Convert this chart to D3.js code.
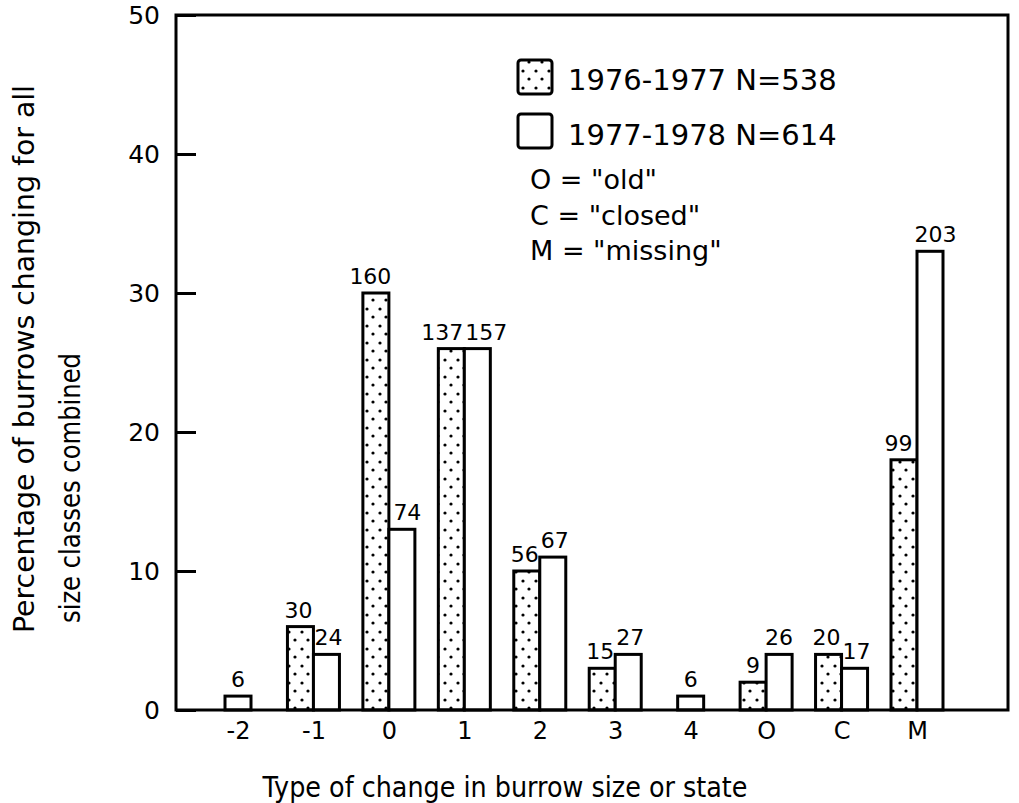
<!DOCTYPE html>
<html>
<head>
<meta charset="utf-8">
<script src="https://cdn.jsdelivr.net/npm/d3@7"></script>
<style>
  body { margin: 0; background: #fff; }
  svg { font-family: "DejaVu Sans", sans-serif; }
</style>
</head>
<body>
<svg id="chart" width="1019" height="803"></svg>
<script>
// categories along the x axis
const categories = ["-2", "-1", "0", "1", "2", "3", "4", "O", "C", "M"];
// 1976-1977 (stippled) percentages and counts
const pct7677 = [null, 6, 30, 26, 10, 3, null, 2, 4, 18];
const n7677 = [null, 30, 160, 137, 56, 15, null, 9, 20, 99];
// 1977-1978 (open) percentages and counts
const pct7778 = [1, 4, 13, 26, 11, 4, 1, 4, 3, 33];
const n7778 = [6, 24, 74, 157, 67, 27, 6, 26, 17, 203];
const yTicks = [0, 10, 20, 30, 40, 50];

const svg = d3.select("#chart");
const plotL = 176, plotR = 1008, plotT = 15, plotB = 710;
const bw = 26;

const x = d3.scalePoint().domain(categories).range([238, 917]);
const y = d3.scaleLinear().domain([0, 50]).range([plotB, plotT]);

// stipple pattern
const pat = svg.append("defs").append("pattern")
    .attr("id", "dots")
    .attr("patternUnits", "userSpaceOnUse")
    .attr("width", 13).attr("height", 17);
pat.append("rect").attr("width", 13).attr("height", 17).attr("fill", "#fff");
[[3, 3], [9, 11]].forEach(p => {
    pat.append("circle").attr("cx", p[0]).attr("cy", p[1]).attr("r", 1.6).attr("fill", "#000");
});

// build bar list
let bars = [];
categories.forEach((c, i) => {
    const both = pct7677[i] != null && pct7778[i] != null;
    const cx = x(c);
    if (pct7677[i] != null) {
        bars.push({ cat: c, s: 0, v: pct7677[i], n: n7677[i], both: both, x0: both ? cx - bw : cx - bw / 2 });
    }
    if (pct7778[i] != null) {
        bars.push({ cat: c, s: 1, v: pct7778[i], n: n7778[i], both: both, x0: both ? cx : cx - bw / 2 });
    }
});

svg.append("g").selectAll("rect")
    .data(bars)
    .enter()
    .append("rect")
    .attr("x", d => d.x0)
    .attr("y", d => y(d.v))
    .attr("width", bw)
    .attr("height", d => y(0) - y(d.v))
    .attr("fill", d => d.s === 0 ? "url(#dots)" : "#fff")
    .attr("stroke", "#000")
    .attr("stroke-width", 3);

// counts above the bars
const labels = svg.append("g").selectAll("text")
    .data(bars)
    .enter()
    .append("text")
    .attr("x", d => d.x0 + bw / 2)
    .attr("y", d => y(d.v) - 9)
    .attr("text-anchor", "middle")
    .attr("font-size", 22)
    .text(d => d.n);

// push apart the two labels of a pair when they would touch
labels.each(function (d) { d.w = this.getComputedTextLength(); });
categories.forEach(c => {
    const pair = labels.filter(d => d.cat === c && d.both);
    if (pair.size() < 2) return;
    const ds = pair.data();
    const need = (ds[0].w + ds[1].w) / 2 + 2 - bw;
    if (need > 0) {
        pair.attr("x", d => d.x0 + bw / 2 + (d.s === 0 ? -need / 2 : need / 2));
    }
});

// frame
svg.append("rect")
    .attr("x", plotL).attr("y", plotT)
    .attr("width", plotR - plotL).attr("height", plotB - plotT)
    .attr("fill", "none").attr("stroke", "#000").attr("stroke-width", 3);

// y axis, ticks pointing inward
const yAxis = svg.append("g")
    .attr("transform", `translate(${plotL},0)`)
    .call(d3.axisLeft(y).tickValues(yTicks).tickSizeInner(-20).tickSizeOuter(0).tickPadding(16));
yAxis.select(".domain").remove();
yAxis.selectAll("line").attr("stroke-width", 3);
yAxis.selectAll("text").attr("font-size", 25).attr("font-family", "DejaVu Sans").attr("fill", "#000");

// x axis labels
const xAxis = svg.append("g")
    .attr("transform", `translate(0,${plotB})`)
    .call(d3.axisBottom(x).tickSize(0).tickPadding(12));
xAxis.select(".domain").remove();
xAxis.selectAll("text").attr("font-size", 24).attr("font-family", "DejaVu Sans").attr("fill", "#000");

// axis titles
svg.append("text")
    .attr("x", 505).attr("y", 797)
    .attr("text-anchor", "middle")
    .attr("font-size", 29)
    .attr("textLength", 485).attr("lengthAdjust", "spacingAndGlyphs")
    .text("Type of change in burrow size or state");

svg.append("text")
    .attr("transform", "translate(34,633) rotate(-90)")
    .attr("font-size", 29)
    .attr("textLength", 548).attr("lengthAdjust", "spacingAndGlyphs")
    .text("Percentage of burrows changing for all");
svg.append("text")
    .attr("transform", "translate(80,623) rotate(-90)")
    .attr("font-size", 29)
    .attr("textLength", 270).attr("lengthAdjust", "spacingAndGlyphs")
    .text("size classes combined");

// legend
const legend = svg.append("g");
const legendItems = ["1976-1977 N=538", "1977-1978 N=614"];
legend.selectAll("rect")
    .data(legendItems)
    .enter()
    .append("rect")
    .attr("x", 518).attr("y", (d, i) => 60 + i * 54)
    .attr("width", 34).attr("height", 34).attr("rx", 3)
    .attr("fill", (d, i) => i === 0 ? "url(#dots)" : "#fff")
    .attr("stroke", "#000").attr("stroke-width", 3);
legend.selectAll("text.item")
    .data(legendItems)
    .enter()
    .append("text")
    .attr("class", "item")
    .attr("x", 568).attr("y", (d, i) => 90 + i * 55)
    .attr("font-size", 29)
    .text(d => d);

const notes = ['O = "old"', 'C = "closed"', 'M = "missing"'];
legend.selectAll("text.note")
    .data(notes)
    .enter()
    .append("text")
    .attr("class", "note")
    .attr("x", 530).attr("y", (d, i) => 189 + i * 35.5)
    .attr("font-size", 27)
    .text(d => d);
</script>
</body>
</html>
